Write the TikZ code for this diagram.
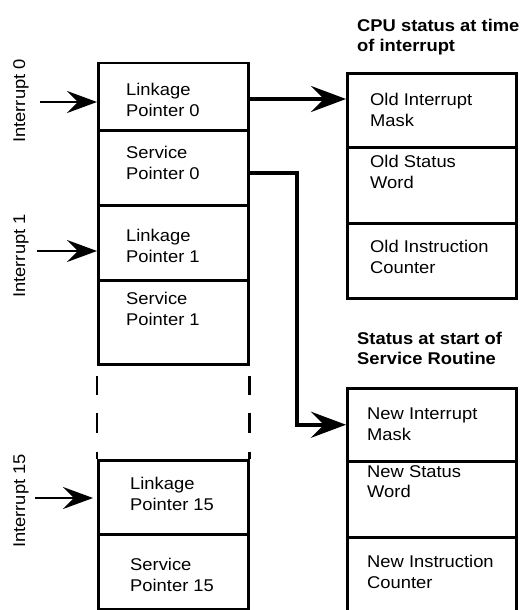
\documentclass[tikz,border=0pt]{standalone}
\usepackage{fontspec}
\setmainfont{Liberation Sans}[FakeStretch=1.08]
\usetikzlibrary{arrows.meta}
\begin{document}
\begin{tikzpicture}[x=1pt,y=-1pt,
  cellL/.style={draw, line width=2.5pt, rectangle, anchor=north west, inner sep=0pt, minimum width=150pt},
  cellR/.style={cellL, minimum width=169pt},
  celltext/.style={anchor=north west, inner sep=0pt, align=left, font=\fontsize{17}{20.5}\selectfont},
  titletext/.style={anchor=north west, inner sep=0pt, align=left, font=\fontsize{17}{19.5}\selectfont\bfseries},
  intlabel/.style={rotate=90, anchor=base, inner sep=0pt, font=\fontsize{17}{20}\selectfont},
  wall/.style={line width=2.5pt},
  thinarrow/.style={line width=2.5pt, -{Stealth[length=30pt, width=22pt, inset=11pt]}},
  thickarrow/.style={line width=4.5pt, line join=miter, -{Stealth[length=35pt, width=26pt, inset=13pt]}}
]
\useasboundingbox (0,0) rectangle (520,610);
\fill[white] (0,0) rectangle (520,610);
\clip (0,0) rectangle (520,610);

% left column
\node[cellL, minimum height=67pt] (L0) at (97,62) {};
\node[cellL, minimum height=75pt] (S0) at (97,129) {};
\node[cellL, minimum height=75pt] (L1) at (97,204) {};
\node[cellL, minimum height=84pt] (S1) at (97,279) {};
\node[cellL, minimum height=74pt] (L15) at (97,459) {};
\node[cellL, minimum height=75pt] (S15) at (97,533) {};

\node[celltext] (tL0) at (126,83) {Linkage\\Pointer 0};
\node[celltext] (tS0) at (126,146) {Service\\Pointer 0};
\node[celltext] (tL1) at (126,229) {Linkage\\Pointer 1};
\node[celltext] (tS1) at (126,292) {Service\\Pointer 1};
\node[celltext] (tL15) at (130,477) {Linkage\\Pointer 15};
\node[celltext] (tS15) at (130,558) {Service\\Pointer 15};

% dashed continuation
\draw[wall] (S1.south west) ++(0,10) -- ++(0,19) ++(0,18) -- ++(0,20) ++(0,19) -- (L15.north west);
\draw[wall] (S1.south east) ++(0,10) -- ++(0,19) ++(0,18) -- ++(0,20) ++(0,19) -- (L15.north east);

% right column
\node[titletext] (T1) at (357,19) {CPU status at time\\of interrupt};
\node[cellR, minimum height=74pt] (OIM) at (346,72) {};
\node[cellR, minimum height=76pt] (OSW) at (346,146) {};
\node[cellR, minimum height=75pt] (OIC) at (346,222) {};
\node[celltext] (tOIM) at (370,93) {Old Interrupt\\Mask};
\node[celltext] (tOSW) at (370,155) {Old Status\\Word};
\node[celltext] (tOIC) at (370,240) {Old Instruction\\Counter};

\node[titletext] (T2) at (357,332) {Status at start of\\Service Routine};
\node[cellR, minimum height=73pt] (NIM) at (346,387) {};
\node[cellR, minimum height=76pt] (NSW) at (346,460) {};
\node[cellR, minimum height=80pt] (NIC) at (346,536) {};
\node[celltext] (tNIM) at (367,408) {New Interrupt\\Mask};
\node[celltext] (tNSW) at (367,465) {New Status\\Word};
\node[celltext] (tNIC) at (367,555) {New Instruction\\Counter};

% interrupt labels and arrows
\node[intlabel] (lab0) at (25,101) {Interrupt 0};
\node[intlabel] (lab1) at (25,256) {Interrupt 1};
\node[intlabel] (lab15) at (25,501) {Interrupt 15};
\coordinate (i0) at (40,102);
\coordinate (i1) at (37,251);
\coordinate (i15) at (35,498);
\draw[thinarrow] (i0) -- (i0 -| L0.west);
\draw[thinarrow] (i1) -- (i1 -| L1.west);
\draw[thinarrow, shorten >=4pt] (i15) -- (i15 -| L15.west);

% connectors
\coordinate (a1) at (0,99);
\draw[thickarrow] (L0.east |- a1) -- (OIM.west |- a1);
\coordinate (bend) at (297,173);
\draw[thickarrow] (S0.east |- bend) -- (bend) |- (NIM.west);
\end{tikzpicture}
\end{document}
